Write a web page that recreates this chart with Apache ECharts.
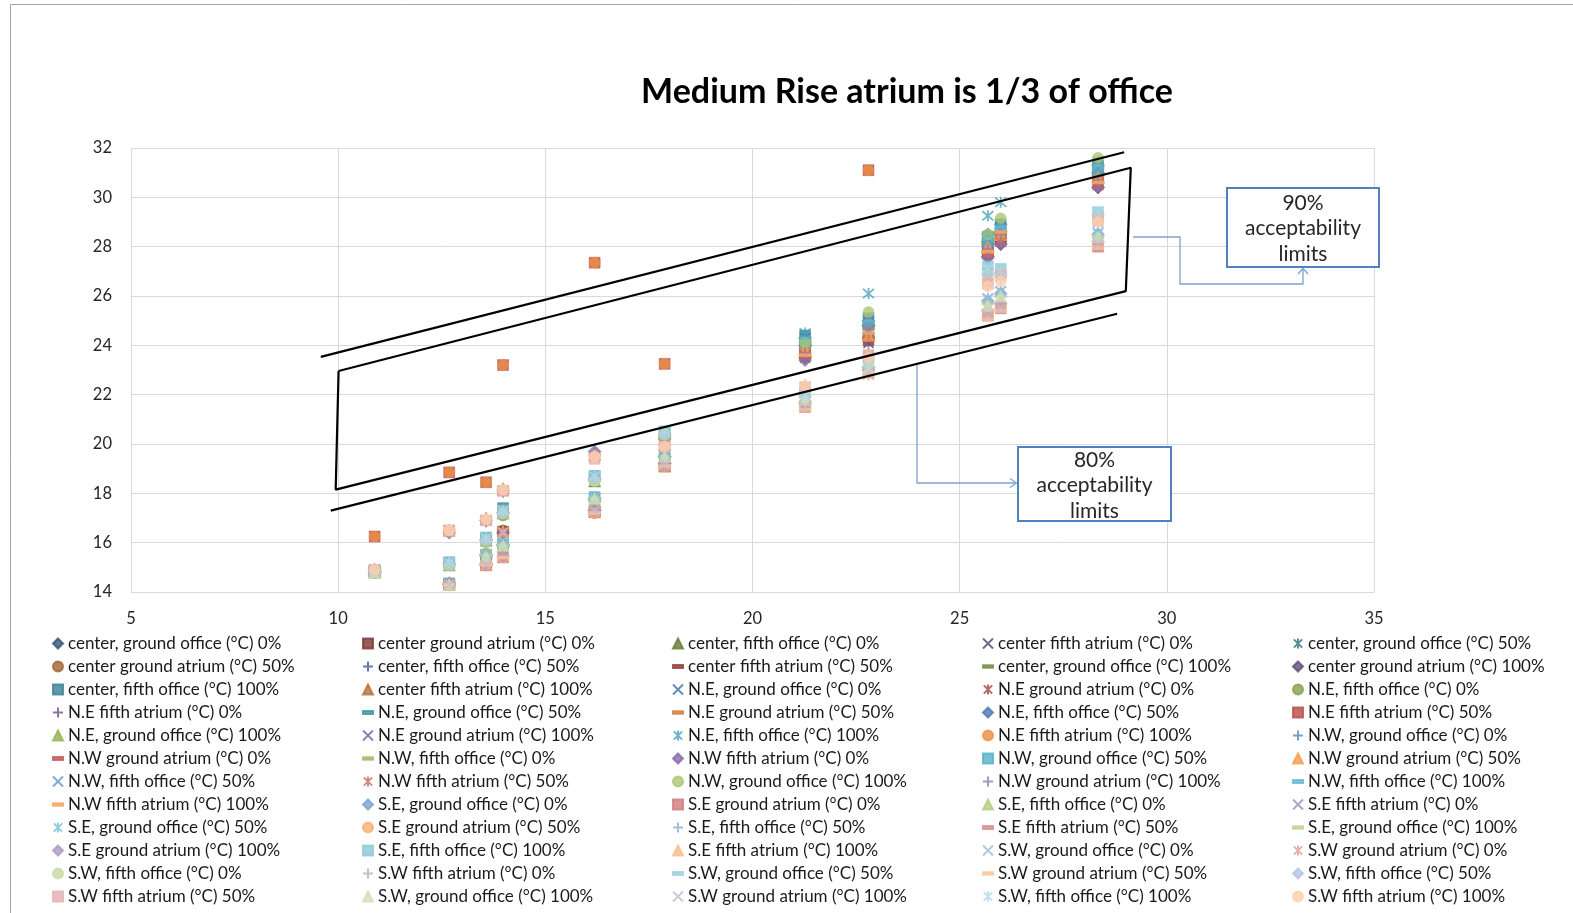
<!DOCTYPE html>
<html><head><meta charset="utf-8">
<script src="https://cdn.jsdelivr.net/npm/echarts/dist/echarts.min.js"></script>
<style>html,body{margin:0;padding:0;background:#fff}#c{width:1573px;height:913px}</style>
</head><body><div id="c"></div><script>
// Outdoor temperature (x) for each plotted month
const xTemps = [10.88, 12.68, 13.57, 13.98, 16.19, 17.88, 21.27, 22.80, 25.68, 25.99, 28.34];
const xTicks = [5, 10, 15, 20, 25, 30, 35];
const yTicks = [14, 16, 18, 20, 22, 24, 26, 28, 30, 32];

const locations = ['center', 'N.E', 'N.W', 'S.E', 'S.W'];
const percents = ['0%', '50%', '100%'];
// rows per location in legend order: ground office, ground atrium, fifth office, fifth atrium (x 0%,50%,100%)
const centerTemps = [
  [14.80,14.30,15.50,15.90,17.80,19.50,24.00,24.80,28.20,28.60,31.00],
  [14.85,14.30,15.15,16.45,17.25,19.10,23.80,24.30,27.90,28.40,30.80],
  [14.85,15.10,16.10,17.20,18.50,20.40,24.20,25.00,28.30,28.70,31.20],
  [14.90,16.50,16.90,18.10,19.50,19.90,23.50,24.10,27.70,28.20,30.50],
  [14.80,14.35,15.50,15.95,17.80,19.60,24.30,25.00,28.40,28.80,31.10],
  [14.85,14.30,15.10,16.50,17.20,19.10,23.70,24.20,27.80,28.30,30.70],
  [14.85,15.15,16.10,17.30,18.60,20.40,24.20,24.90,28.20,28.60,31.10],
  [14.90,16.45,16.90,18.10,19.45,19.80,23.60,24.20,27.80,28.30,30.60],
  [14.80,14.30,15.45,15.90,17.75,19.50,24.10,24.70,28.10,28.50,30.90],
  [14.85,14.35,15.10,16.40,17.30,19.20,23.50,24.30,27.60,28.10,30.40],
  [14.85,15.20,16.20,17.40,18.70,20.50,24.40,25.10,28.40,28.90,31.30],
  [14.90,16.50,17.00,18.20,19.60,20.00,23.70,24.40,27.90,28.40,30.70]
];
const neTemps = [
  [14.80,14.30,15.50,15.85,17.80,19.45,23.90,24.60,28.00,28.50,30.90],
  [14.85,14.30,15.15,16.45,17.25,19.10,23.70,24.20,27.90,28.30,30.70],
  [14.85,15.10,16.05,17.10,18.50,20.30,24.10,24.90,28.20,28.60,31.10],
  [14.90,16.50,16.85,18.05,19.50,19.90,23.50,24.00,27.60,28.10,30.40],
  [14.80,14.30,15.50,15.90,17.80,19.50,24.00,24.70,28.10,28.60,31.00],
  [14.85,14.30,15.10,16.50,17.20,19.10,23.60,24.30,27.80,28.30,30.60],
  [14.85,15.15,16.10,17.20,18.60,20.40,24.30,25.00,28.50,28.90,31.30],
  [16.25,18.85,18.45,23.20,27.35,23.25,23.90,31.10,27.80,28.40,30.80],
  [14.80,14.30,15.45,15.90,17.75,19.40,23.90,24.60,28.00,28.50,30.90],
  [14.85,14.35,15.10,16.40,17.30,19.15,23.60,24.20,27.80,28.20,30.60],
  [14.85,15.20,16.20,17.30,18.70,20.50,24.50,26.10,29.25,29.80,31.45],
  [16.25,18.85,18.45,23.20,27.35,23.25,23.90,31.10,27.80,28.40,30.80]
];
const nwTemps = [
  [14.80,14.30,15.50,15.90,17.80,19.50,24.00,24.70,28.10,28.60,31.00],
  [14.85,14.30,15.15,16.45,17.25,19.10,23.70,24.30,27.90,28.40,30.80],
  [14.85,15.10,16.10,17.20,18.55,20.30,24.20,24.90,28.30,28.70,31.20],
  [14.90,16.40,16.90,18.10,19.70,20.20,23.40,24.80,27.55,28.10,30.40],
  [14.80,14.35,15.50,15.95,17.85,19.55,24.10,24.80,28.20,28.70,31.10],
  [14.85,14.30,15.10,16.45,17.25,19.10,23.80,24.40,28.00,28.50,30.80],
  [14.85,15.15,16.10,17.25,18.60,20.40,24.20,25.00,28.30,28.70,31.20],
  [14.90,16.50,16.90,18.10,19.50,19.90,23.60,24.60,27.70,28.20,30.50],
  [14.80,14.30,15.60,15.90,17.80,20.40,24.10,25.35,28.50,29.15,31.60],
  [14.85,14.30,15.10,16.40,17.30,19.15,23.70,24.50,27.90,28.50,30.70],
  [14.85,15.20,16.15,17.30,18.65,20.45,24.30,25.00,28.40,28.80,31.30],
  [14.90,16.50,16.95,18.15,19.55,19.95,23.60,24.50,27.80,28.60,30.60]
];
const seTemps = [
  [14.80,14.30,15.50,15.90,17.80,19.50,21.70,23.10,25.80,26.10,28.50],
  [14.85,14.30,15.10,15.40,17.25,19.10,21.50,22.90,25.20,25.50,28.00],
  [14.85,15.10,16.10,17.20,18.55,20.40,21.90,23.30,27.00,27.00,29.30],
  [14.90,16.50,16.90,18.10,19.50,19.90,22.30,23.60,26.50,26.80,29.00],
  [14.80,14.30,15.55,15.95,17.85,19.55,21.80,23.20,25.90,26.20,28.60],
  [14.85,14.30,15.10,15.40,17.20,19.10,21.50,22.90,25.30,25.60,28.10],
  [14.85,15.15,16.10,17.25,18.60,20.40,22.00,23.40,27.10,27.00,29.30],
  [14.90,16.50,16.90,18.10,19.45,19.85,22.30,23.60,26.60,26.90,29.10],
  [14.80,14.30,15.50,15.90,17.80,19.50,21.70,23.10,25.70,26.00,28.40],
  [14.85,14.35,15.15,15.45,17.30,19.15,21.60,23.00,25.40,25.70,28.20],
  [14.85,15.20,16.20,17.30,18.70,20.50,22.10,23.50,27.20,27.10,29.40],
  [14.90,16.50,16.95,18.15,19.55,19.95,22.40,23.70,26.70,27.00,29.20]
];
const swTemps = [
  [14.80,14.30,15.50,15.90,17.80,19.50,21.80,23.00,25.90,26.20,28.50],
  [14.85,14.30,15.10,16.45,17.25,19.10,21.50,22.80,25.30,25.60,28.00],
  [14.85,15.10,16.10,17.20,18.50,20.40,22.00,23.20,26.90,26.90,29.20],
  [14.90,16.50,16.90,18.10,19.50,19.90,22.30,23.50,26.40,26.70,29.00],
  [14.80,14.30,15.50,15.90,17.80,19.50,21.70,23.00,25.60,26.00,28.50],
  [14.85,14.30,15.10,15.40,17.20,19.10,21.40,22.75,25.05,25.40,27.95],
  [14.85,15.15,16.10,17.20,18.60,20.40,21.90,23.10,26.90,26.90,29.30],
  [14.90,16.50,16.90,18.10,19.40,19.90,22.30,23.60,26.50,26.90,29.10],
  [14.80,14.30,15.45,15.90,17.80,19.50,21.80,23.10,25.60,26.00,28.40],
  [14.85,14.30,15.10,16.40,17.30,19.15,21.50,22.90,25.20,25.50,28.10],
  [14.85,15.20,16.20,17.30,18.70,20.50,22.00,23.30,27.10,27.00,29.40],
  [14.90,16.50,16.95,18.15,19.50,19.90,22.35,23.50,26.40,26.60,29.00]
];

// acceptability limit lines (x = outdoor temp, y = indoor temp)
const limit80Upper = [[9.58, 23.53], [28.97, 31.83]];
const limit80Lower = [[9.82, 17.30], [28.80, 25.28]];
const limit90Box = [[10.01, 22.96], [29.13, 31.20], [29.01, 26.20], [9.94, 18.15], [10.01, 22.96]];

const titleText = 'Medium Rise atrium is 1/3 of office';

// ---------- build ----------
const FONT = 'Lato, "Liberation Sans", sans-serif';
const accents = ['#4F81BD', '#C0504D', '#9BBB59', '#8064A2', '#4BACC6', '#F79646'];
function shade(hex, t) {
  const c = [1, 3, 5].map(i => parseInt(hex.slice(i, i + 2), 16));
  const o = c.map(v => Math.round(t < 0 ? v * (1 + t) : v + (255 - v) * t));
  return 'rgb(' + o.join(',') + ')';
}
const markerDefs = [
  { symbol: 'diamond', size: 13, fill: true },
  { symbol: 'rect', size: 11, fill: true },
  { symbol: 'triangle', size: 12, fill: true },
  { symbol: 'path://M0,0L10,10M10,0L0,10', size: 10, fill: false },
  { symbol: 'path://M0,0L10,10M10,0L0,10M5,-1L5,11', size: 11, fill: false },
  { symbol: 'circle', size: 11, fill: true },
  { symbol: 'path://M5,0L5,10M0,5L10,5', size: 11, fill: false },
  { symbol: 'path://M0,0H10V3H0Z', size: 8, fill: true, keep: true },
  { symbol: 'path://M0,0H10V2.6H0Z', size: 12, fill: true, keep: true }
];

const allNames = [];
const allRows = [];
const locData = [centerTemps, neTemps, nwTemps, seTemps, swTemps];
locations.forEach((loc, li) => {
  percents.forEach((p, pi) => {
    const base = pi * 4;
    allNames.push(loc + ', ground office (°C) ' + p);
    allRows.push(locData[li][base]);
    allNames.push(loc + ' ground atrium (°C) ' + p);
    allRows.push(locData[li][base + 1]);
    allNames.push(loc + ', fifth office (°C) ' + p);
    allRows.push(locData[li][base + 2]);
    allNames.push(loc + ' fifth atrium (°C) ' + p);
    allRows.push(locData[li][base + 3]);
  });
});

const series = allNames.map((name, i) => {
  const g = Math.floor(i / 6);
  const col = shade(accents[i % 6], -0.35 + g * 0.1);
  const m = markerDefs[i % 9];
  return {
    type: 'scatter', name,
    symbol: m.symbol, symbolSize: m.size, symbolKeepAspect: !!m.keep,
    itemStyle: m.fill ? { color: col, borderColor: col, borderWidth: 0.5 }
                      : { color: 'rgba(0,0,0,0)', borderColor: col, borderWidth: 1.7 },
    data: xTemps.map((x, k) => [x, allRows[i][k]]),
    z: 2
  };
});
[limit80Upper, limit80Lower, limit90Box].forEach((pts, k) => {
  series.push({
    type: 'line', name: 'limit' + k, data: pts, showSymbol: false, symbol: 'none',
    lineStyle: { color: '#000', width: 2.2 }, silent: true, z: 5, animation: false
  });
});

const colX = [47, 357, 667, 977, 1287];
const legends = colX.map((lx, c) => ({
  orient: 'vertical', left: lx, top: 630,
  itemWidth: 10, itemHeight: 10, itemGap: 6,
  data: allNames.filter((n, i) => i % 5 === c),
  textStyle: { fontFamily: FONT, fontSize: 17, color: '#1a1a1a', lineHeight: 17 },
  selectedMode: false
}));

const box = (x, y, w, h, label, cx, cy) => [
  { type: 'rect', shape: { x, y, width: w, height: h }, style: { fill: '#fff', stroke: '#4F81BD', lineWidth: 2 }, z: 20 },
  { type: 'text', style: { text: label, x: cx, y: cy, align: 'center', verticalAlign: 'middle',
      font: '21px ' + FONT, fill: '#262626', lineHeight: 25.5 }, z: 21 }
];
const conn = (pts) => ({ type: 'polyline', shape: { points: pts }, style: { stroke: '#7DA3D3', lineWidth: 1.3, fill: null }, z: 19 });

const option = {
  animation: false,
  backgroundColor: '#fff',
  title: { text: titleText, left: 902, top: 70, textAlign: 'center',
    textStyle: { fontFamily: FONT, fontSize: 34, fontWeight: 'bold', color: '#000' } },
  grid: { left: 131, right: 199, top: 148, bottom: 321, containLabel: false },
  xAxis: { type: 'value', min: xTicks[0], max: xTicks[xTicks.length - 1], interval: 5,
    axisLine: { show: false }, axisTick: { show: false },
    splitLine: { lineStyle: { color: '#d9d9d9', width: 1 } },
    axisLabel: { fontFamily: FONT, fontSize: 16.5, color: '#262626', margin: 18 } },
  yAxis: { type: 'value', min: yTicks[0], max: yTicks[yTicks.length - 1], interval: 2,
    axisLine: { show: false }, axisTick: { show: false },
    splitLine: { lineStyle: { color: '#d9d9d9', width: 1 } },
    axisLabel: { fontFamily: FONT, fontSize: 16.5, color: '#262626', margin: 19 } },
  legend: legends,
  series,
  graphic: [
    { type: 'rect', shape: { x: 10.5, y: 4.5, width: 1700, height: 1000 }, style: { fill: null, stroke: '#a6a6a6', lineWidth: 1 }, z: 0, silent: true },
    conn([[1133, 237], [1180, 237], [1180, 284], [1303, 284], [1303, 269]]),
    conn([[1298, 274], [1303, 268.5], [1308, 274]]),
    conn([[917, 365], [917, 483], [1016, 483]]),
    conn([[1010, 478.5], [1016.5, 483], [1010, 487.5]]),
    ...box(1227, 188, 152, 79, '90%\nacceptability\nlimits', 1303, 228.5),
    ...box(1018, 447, 153, 74, '80%\nacceptability\nlimits', 1094.5, 485.5)
  ]
};
const chart = echarts.init(document.getElementById('c'));
chart.setOption(option);
</script></body></html>
